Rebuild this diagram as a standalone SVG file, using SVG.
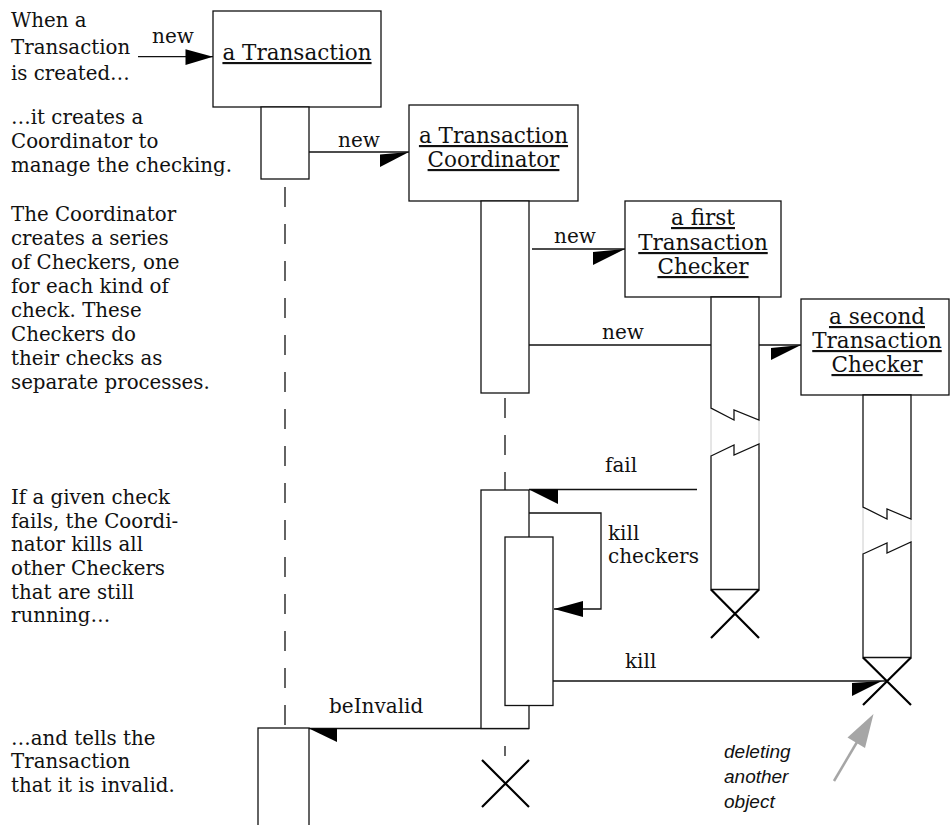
<svg xmlns="http://www.w3.org/2000/svg" width="952" height="825" viewBox="0 0 952 825">
  <style>
    .box { fill: #fff; stroke: #111; stroke-width: 1.3; }
    .life { fill: none; stroke: #111; stroke-width: 1.3; stroke-dasharray: 20 17; }
    .msg { fill: none; stroke: #111; stroke-width: 1.3; }
    .head { fill: #000; stroke: none; }
    .xmark { fill: none; stroke: #000; stroke-width: 2.2; }
    .faint { fill: none; stroke: #ccc; stroke-width: 1; }
    text { font-family: "DejaVu Serif", serif; fill: #111; }
    .note { font-size: 19.8px; }
    .lbl { font-size: 20px; }
    .name { font-size: 21.5px; text-anchor: middle; text-decoration: underline; }
    .ann { font-family: "Liberation Sans", Arial, sans-serif; font-style: italic; font-size: 19px; }
  </style>

  <rect width="952" height="825" fill="#fff"/>

  <!-- explanatory notes down the left margin -->
  <g id="notes" class="note">
    <text x="11" y="27">When a</text>
    <text x="11" y="54">Transaction</text>
    <text x="11" y="80">is created…</text>

    <text x="11" y="124">…it creates a</text>
    <text x="11" y="148">Coordinator to</text>
    <text x="11" y="172">manage the checking.</text>

    <text x="11" y="221">The Coordinator</text>
    <text x="11" y="245">creates a series</text>
    <text x="11" y="269">of Checkers, one</text>
    <text x="11" y="293">for each kind of</text>
    <text x="11" y="317">check. These</text>
    <text x="11" y="341">Checkers do</text>
    <text x="11" y="365">their checks as</text>
    <text x="11" y="389">separate processes.</text>

    <text x="11" y="504">If a given check</text>
    <text x="11" y="528">fails, the Coordi-</text>
    <text x="11" y="551">nator kills all</text>
    <text x="11" y="575">other Checkers</text>
    <text x="11" y="599">that are still</text>
    <text x="11" y="622">running…</text>

    <text x="11" y="745">…and tells the</text>
    <text x="11" y="768">Transaction</text>
    <text x="11" y="792">that it is invalid.</text>
  </g>

  <!-- messages between the objects -->
  <g id="connectors">
    <!-- new: outside -> Transaction -->
    <line class="msg" x1="138" y1="56.7" x2="213" y2="56.7"/>
    <polygon class="head" points="213,56.7 185.5,49.3 185.5,65"/>
    <text class="lbl" x="152" y="43">new</text>

    <!-- new: Transaction -> Coordinator -->
    <line class="msg" x1="309" y1="152" x2="409" y2="152"/>
    <polygon class="head" points="409,152 380,154.5 380,167"/>
    <text class="lbl" x="338" y="147">new</text>

    <!-- new: Coordinator -> first Checker -->
    <line class="msg" x1="532" y1="249" x2="625" y2="249"/>
    <polygon class="head" points="625,249 593,252 593,265"/>
    <text class="lbl" x="554" y="243">new</text>

    <!-- new: Coordinator -> second Checker (passes behind the first Checker) -->
    <line class="msg" x1="529" y1="345" x2="801" y2="345"/>
    <polygon class="head" points="801,345 771,348 771,360"/>
    <text class="lbl" x="602" y="339">new</text>

    <!-- fail: first Checker -> Coordinator -->
    <line class="msg" x1="529" y1="489.5" x2="697" y2="489.5"/>
    <polygon class="head" points="529,489.5 558,489.5 558,504"/>
    <text class="lbl" x="605" y="472">fail</text>

    <!-- kill checkers: self call -->
    <polyline class="msg" points="529,513 601,513 601,609 554,609"/>
    <polygon class="head" points="554,609 583,601 583,617"/>
    <text class="lbl" x="608" y="540">kill</text>
    <text class="lbl" x="608" y="563">checkers</text>

    <!-- kill: Coordinator -> second Checker -->
    <line class="msg" x1="553" y1="681" x2="887" y2="681"/>
    <polygon class="head" points="882,681 852,683 852,696"/>
    <text class="lbl" x="625" y="668">kill</text>

    <!-- beInvalid: Coordinator -> Transaction -->
    <line class="msg" x1="529" y1="728.5" x2="309" y2="728.5"/>
    <polygon class="head" points="309,728.5 337,728.5 337,742"/>
    <text class="lbl" x="329" y="713">beInvalid</text>
  </g>

  <!-- the Transaction object -->
  <g id="transaction">
    <rect class="box" x="213" y="11" width="168" height="96"/>
    <text class="name" x="297" y="60">a Transaction</text>
    <rect class="box" x="261" y="107" width="48" height="72"/>
    <line class="life" x1="285" y1="187" x2="285" y2="728"/>
    <rect class="box" x="258" y="728" width="51" height="110"/>
  </g>

  <!-- the Transaction Coordinator -->
  <g id="coordinator">
    <rect class="box" x="409" y="105" width="169" height="96"/>
    <text class="name" x="493.5" y="143">a Transaction</text>
    <text class="name" x="493.5" y="167">Coordinator</text>
    <rect class="box" x="481" y="201" width="48" height="192"/>
    <line class="life" x1="505" y1="398" x2="505" y2="490"/>
    <rect class="box" x="481" y="490" width="48" height="238.5"/>
    <rect class="box" x="505" y="537" width="48" height="168.5"/>
    <line class="msg" x1="505" y1="746" x2="505" y2="756"/>
    <path class="xmark" d="M482,760 L529,807 M529,760 L482,807"/>
  </g>

  <!-- the first Transaction Checker -->
  <g id="checker1">
    <rect class="box" x="625" y="201" width="156" height="96"/>
    <text class="name" x="703" y="225">a first</text>
    <text class="name" x="703" y="250">Transaction</text>
    <text class="name" x="703" y="274">Checker</text>
    <path class="faint" d="M711,408 V456 M759,420 V444"/>
    <path class="box" d="M711,297 V408 L734,420 L734,410 L759,420 V297 Z"/>
    <path class="box" d="M711,456 L734,445 L734,455 L759,444 V589.5 H711 Z"/>
    <path class="xmark" d="M711,589.5 L759,638 M759,589.5 L711,638"/>
  </g>

  <!-- the second Transaction Checker -->
  <g id="checker2">
    <rect class="box" x="801" y="299" width="148" height="96"/>
    <text class="name" x="877" y="324">a second</text>
    <text class="name" x="877" y="348">Transaction</text>
    <text class="name" x="877" y="372">Checker</text>
    <path class="faint" d="M863,507 V554 M911,519 V543"/>
    <path class="box" d="M863,395 V507 L887,519 L887,509 L911,519 V395 Z"/>
    <path class="box" d="M863,554 L887,543 L887,553 L911,542 V657.5 H863 Z"/>
    <path class="xmark" d="M863,657.5 L911,705 M911,657.5 L863,705"/>
  </g>

  <!-- annotation pointing at the deletion mark -->
  <g id="annotation">
    <line x1="834" y1="781" x2="860" y2="737" stroke="#a6a6a6" stroke-width="2.5"/>
    <polygon points="873.5,714 847.5,737.5 865,748" fill="#a6a6a6"/>
    <text class="ann" x="724" y="758">deleting</text>
    <text class="ann" x="724" y="783">another</text>
    <text class="ann" x="724" y="808">object</text>
  </g>
</svg>
